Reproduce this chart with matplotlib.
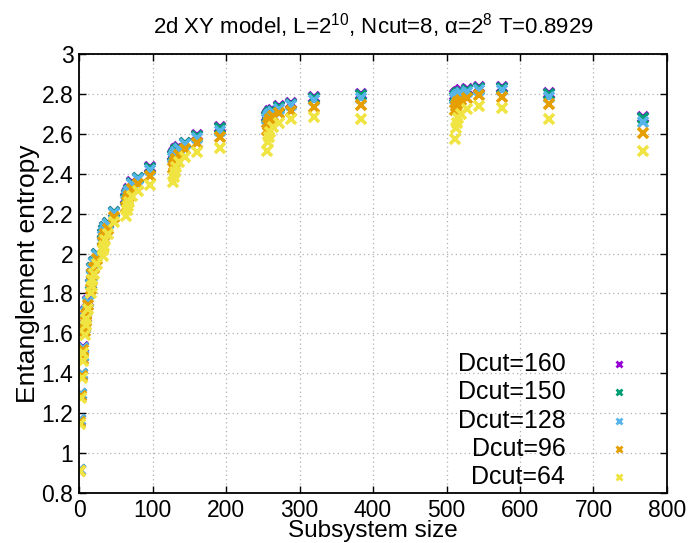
import matplotlib
matplotlib.use("Agg")
import matplotlib.pyplot as plt

plt.rcParams['font.family'] = ['Liberation Sans', 'DejaVu Sans']
plt.rcParams['mathtext.fontset'] = 'custom'
plt.rcParams['mathtext.rm'] = 'Liberation Sans'

# subsystem sizes (2^a and 2^a + 2^b)
sizes = [1, 2, 3, 4, 5, 6, 8, 9, 10, 12, 16, 17, 18, 20, 24,
         32, 33, 34, 36, 40, 48, 64, 65, 66, 68, 72, 80, 96,
         128, 129, 130, 132, 136, 144, 160, 192,
         256, 257, 258, 260, 264, 272, 288, 320, 384,
         512, 513, 514, 516, 520, 528, 544, 576, 640, 768]

s_dcut160 = [0.915, 1.165, 1.295, 1.395, 1.485, 1.530, 1.630, 1.680, 1.710, 1.760, 1.850, 1.900, 1.930, 1.960, 2.000,
             2.070, 2.100, 2.120, 2.135, 2.155, 2.210, 2.280, 2.300, 2.310, 2.325, 2.357, 2.380, 2.432,
             2.494, 2.502, 2.510, 2.522, 2.535, 2.556, 2.594, 2.636,
             2.690, 2.700, 2.705, 2.712, 2.722, 2.738, 2.756, 2.783, 2.800,
             2.795, 2.800, 2.805, 2.810, 2.818, 2.825, 2.836, 2.836, 2.803, 2.685]

s_dcut150 = [0.915, 1.165, 1.295, 1.395, 1.485, 1.529, 1.628, 1.678, 1.708, 1.758, 1.848, 1.897, 1.928, 1.958, 1.998,
             2.066, 2.096, 2.116, 2.132, 2.152, 2.207, 2.275, 2.296, 2.306, 2.321, 2.353, 2.377, 2.428,
             2.489, 2.497, 2.505, 2.517, 2.530, 2.553, 2.589, 2.631,
             2.684, 2.695, 2.700, 2.707, 2.717, 2.734, 2.752, 2.779, 2.794,
             2.787, 2.793, 2.799, 2.804, 2.812, 2.820, 2.831, 2.830, 2.798, 2.680]

s_dcut128 = [0.915, 1.165, 1.295, 1.395, 1.485, 1.528, 1.625, 1.675, 1.705, 1.755, 1.845, 1.890, 1.925, 1.955, 1.995,
             2.060, 2.090, 2.110, 2.128, 2.148, 2.202, 2.265, 2.290, 2.300, 2.315, 2.348, 2.372, 2.419,
             2.478, 2.488, 2.497, 2.508, 2.522, 2.549, 2.577, 2.616,
             2.672, 2.685, 2.692, 2.700, 2.710, 2.727, 2.746, 2.770, 2.778,
             2.775, 2.783, 2.790, 2.796, 2.804, 2.812, 2.822, 2.820, 2.786, 2.658]

s_dcut96 = [0.912, 1.155, 1.285, 1.385, 1.472, 1.515, 1.610, 1.660, 1.690, 1.740, 1.825, 1.870, 1.900, 1.930, 1.975,
            2.030, 2.060, 2.080, 2.100, 2.125, 2.185, 2.235, 2.260, 2.275, 2.290, 2.325, 2.350, 2.390,
            2.430, 2.445, 2.460, 2.475, 2.495, 2.522, 2.552, 2.586,
            2.620, 2.645, 2.660, 2.675, 2.690, 2.705, 2.716, 2.733, 2.744,
            2.720, 2.740, 2.750, 2.760, 2.770, 2.780, 2.794, 2.786, 2.748, 2.606]

s_dcut64 = [0.910, 1.145, 1.275, 1.375, 1.460, 1.500, 1.590, 1.640, 1.670, 1.720, 1.800, 1.840, 1.870, 1.900, 1.950,
            1.990, 2.020, 2.040, 2.070, 2.100, 2.160, 2.190, 2.220, 2.240, 2.260, 2.290, 2.315, 2.343,
            2.360, 2.385, 2.410, 2.435, 2.460, 2.482, 2.510, 2.530,
            2.515, 2.560, 2.586, 2.610, 2.636, 2.656, 2.672, 2.686, 2.674,
            2.574, 2.630, 2.655, 2.680, 2.700, 2.725, 2.739, 2.728, 2.674, 2.515]

labels = ['Dcut=160', 'Dcut=150', 'Dcut=128', 'Dcut=96', 'Dcut=64']
colors = ['#9400D3', '#009E73', '#56B4E9', '#E69F00', '#F0E442']
series = [s_dcut160, s_dcut150, s_dcut128, s_dcut96, s_dcut64]

x_ticks = [0, 100, 200, 300, 400, 500, 600, 700, 800]
y_ticks = [0.8, 1.0, 1.2, 1.4, 1.6, 1.8, 2.0, 2.2, 2.4, 2.6, 2.8, 3.0]

fig = plt.figure(figsize=(6.95, 5.43), dpi=100)
ax = fig.add_axes([0.1137, 0.092, 0.846, 0.8085])

for vals, col in zip(series, colors):
    ax.plot(sizes, vals, linestyle='none', marker='x', markersize=7.2,
            markeredgewidth=2.6, color=col)

ax.set_xlim(0, 800)
ax.set_ylim(0.8, 3.0)
ax.set_xticks(x_ticks)
ax.set_yticks(y_ticks)
ax.set_yticklabels(['%g' % v for v in y_ticks])
ax.tick_params(direction='in', top=True, right=True, length=5, width=1,
               labelsize=16.5, pad=4)
ax.grid(True, color='#b0b0b0', linestyle=(0, (1, 2.5)), linewidth=0.9)
for sp in ax.spines.values():
    sp.set_linewidth(1.3)

ax.set_xlabel('Subsystem size', fontsize=17.5, labelpad=-1)
ax.set_ylabel('Entanglement entropy', fontsize=19, labelpad=1)
ax.set_title(r'2d XY model, L=$\mathregular{2^{10}}$, Ncut=8, α=$\mathregular{2^{8}}$ T=0.8929',
             fontsize=16, pad=15)

# key: right-aligned labels with the marker to the right, no frame
for i, (lab, col) in enumerate(zip(labels, colors)):
    yk = 0.294 - i * 0.0645
    ax.text(0.827, yk, lab, transform=ax.transAxes, ha='right', va='center',
            fontsize=18)
    ax.plot([0.918], [yk], transform=ax.transAxes, marker='x', markersize=5,
            markeredgewidth=2, color=col, linestyle='none')

fig.savefig('out.png', dpi=100)
